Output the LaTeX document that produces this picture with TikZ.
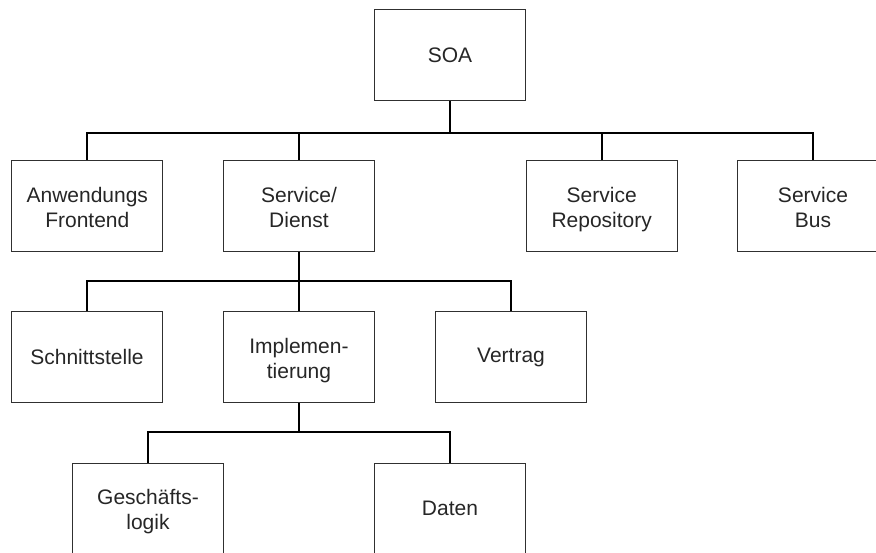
\documentclass[tikz,border=0pt]{standalone}
\usepackage{fontspec}
\setmainfont{Liberation Sans}
\definecolor{txt}{HTML}{262626}
\definecolor{edge}{HTML}{303030}
\newcommand{\dn}{\vphantom{gy}}
\newcommand{\upr}{\rule{0pt}{21.5pt}}
\begin{document}
\begin{tikzpicture}[x=1pt,y=-1pt,
  box/.style={draw=edge,line width=1.3pt,minimum width=151pt,minimum height=91pt,
    inner sep=0pt,align=center,font=\fontsize{21}{25}\selectfont,text=txt},
  conn/.style={draw=black,line width=2.2pt}]
\useasboundingbox (0,0) rectangle (876,552);
\clip (0,0) rectangle (876,552);
\node[box] (soa) at (450,55) {SOA};
\node[box] (anw) at (87.3,206) {\upr Anwendungs\\Frontend\dn};
\node[box] (svc) at (299,206) {\upr Service/\\Dienst\dn};
\node[box] (rep) at (601.7,206) {\upr Service\\Repository\dn};
\node[box] (bus) at (813,206) {\upr Service\\Bus\dn};
\node[box] (sch) at (87,357) {Schnittstelle};
\node[box] (imp) at (299,357) {\upr Implemen-\\tierung\dn};
\node[box] (ver) at (511,357) {Vertrag};
\node[box] (ges) at (148,508.8) {\upr Geschäfts-\\logik\dn};
\node[box] (dat) at (450,508.8) {Daten};
\foreach \c in {anw,svc,rep,bus}
  \draw[conn] (soa.south) -- ++(0,32.2) -| (\c.north);
\foreach \c in {sch,imp,ver}
  \draw[conn] (svc.south) -- ++(0,29) -| (\c.north);
\foreach \c in {ges,dat}
  \draw[conn] (imp.south) -- ++(0,29.2) -| (\c.north);
\end{tikzpicture}
\end{document}
